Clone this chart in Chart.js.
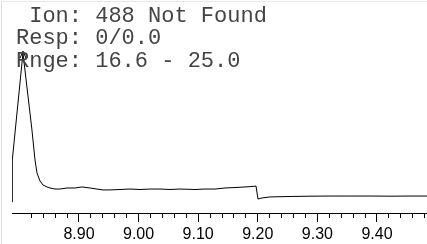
<!DOCTYPE html>
<html>
<head>
<meta charset="utf-8">
<script src="https://cdn.jsdelivr.net/npm/chart.js@4.4.0/dist/chart.umd.min.js"></script>
<style>
  html, body { margin: 0; padding: 0; background: #fff; }
  #wrap { position: relative; width: 427px; height: 244px; overflow: hidden; }
  #frame { position: absolute; left: 1px; top: 1px; right: 0; bottom: 0; border-left: 1px solid #ddd; border-top: 1px solid #e8e8e8; pointer-events: none; }
  #info { position: absolute; left: 16px; top: 5.5px; font: 22px/22.7px "Liberation Mono", monospace; color: #444; white-space: pre; }
</style>
</head>
<body>
<div id="wrap">
  <canvas id="tic" width="427" height="244"></canvas>
  <div id="info"></div>
  <div id="frame"></div>
</div>
<script>
// header lines
const infoLines = [' Ion: 488 Not Found', 'Resp: 0/0.0', 'Rnge: 16.6 - 25.0'];

// retention time (min) and relative abundance of the trace
const rtMinutes = [
  8.7876, 8.7881, 8.8060, 8.8211, 8.8228, 8.8262, 8.8295, 8.8346, 8.8396, 8.8463,
  8.8513, 8.8597, 8.8681, 8.8799, 8.8933, 8.9050, 8.9185, 8.9302, 8.9403, 8.9520,
  8.9688, 8.9856, 9.0023, 9.0191, 9.0359, 9.0527, 9.0695, 9.0946, 9.1114, 9.1282,
  9.1450, 9.1617, 9.1785, 9.1903, 9.1970, 9.2003, 9.2070, 9.2205, 9.2540, 9.2876,
  9.3211, 9.3547, 9.3883, 9.4218, 9.4554, 9.4839
];
const abundance = [
  0, 28.2, 100, 48.3, 41.6, 28.2, 19.5, 14.1, 11.4, 10.1,
  9.4, 8.7, 8.7, 9.4, 9.4, 10.1, 9.4, 8.7, 8.1, 8.1,
  8.4, 8.7, 8.4, 8.7, 8.7, 8.4, 8.7, 8.4, 8.7, 8.7,
  9.4, 9.7, 10.1, 10.4, 10.7, 2.0, 2.7, 3.4, 3.7, 3.9,
  4.0, 4.0, 4.0, 3.9, 4.0, 4.0
];

// peak marker
const markerRt = [8.806];
const markerAbund = [101.3];

// axis ticks
const majorTicks = [8.90, 9.00, 9.10, 9.20, 9.30, 9.40];
const tickLabels = ['8.90', '9.00', '9.10', '9.20', '9.30', '9.40'];
const minorTicks = [
  8.82, 8.84, 8.86, 8.88, 8.92, 8.94, 8.96, 8.98, 9.02, 9.04, 9.06, 9.08,
  9.12, 9.14, 9.16, 9.18, 9.22, 9.24, 9.26, 9.28, 9.32, 9.34, 9.36, 9.38,
  9.42, 9.44, 9.46, 9.48
];

document.getElementById('info').textContent = infoLines.join('\n');

function arrowHead() {
  const c = document.createElement('canvas');
  c.width = 10;
  c.height = 18;
  const g = c.getContext('2d');
  g.strokeStyle = '#000';
  g.lineWidth = 1;
  g.beginPath();
  g.moveTo(2, 16);
  g.lineTo(5, 9);
  g.lineTo(8, 16);
  g.stroke();
  return c;
}

// short minor ticks under the axis line
const minorTickPlugin = {
  id: 'minorTicks',
  afterDraw(chart) {
    const scale = chart.scales.x;
    const ctx = chart.ctx;
    const y0 = scale.top;
    ctx.save();
    ctx.strokeStyle = '#000';
    ctx.lineWidth = 1;
    ctx.beginPath();
    minorTicks.forEach(v => {
      const px = Math.round(scale.getPixelForValue(v) - 0.5) + 0.5;
      ctx.moveTo(px, y0);
      ctx.lineTo(px, y0 + 5);
    });
    ctx.stroke();
    ctx.restore();
  }
};

new Chart(document.getElementById('tic'), {
  type: 'scatter',
  data: {
    datasets: [
      {
        data: rtMinutes.map((x, i) => ({ x: x, y: abundance[i] })),
        showLine: true,
        borderColor: '#000',
        borderWidth: 1,
        pointRadius: 0,
        tension: 0
      },
      {
        data: markerRt.map((x, i) => ({ x: x, y: markerAbund[i] })),
        showLine: false,
        pointStyle: arrowHead(),
        pointRadius: 5
      }
    ]
  },
  options: {
    responsive: false,
    animation: false,
    devicePixelRatio: 1,
    layout: { autoPadding: false, padding: { left: 12, right: 0, top: 0, bottom: 0 } },
    plugins: {
      legend: { display: false },
      tooltip: { enabled: false }
    },
    scales: {
      x: {
        type: 'linear',
        min: 8.7876,
        max: 9.4839,
        afterBuildTicks: (scale) => {
          scale.ticks = majorTicks.map(v => ({ value: v }));
        },
        afterFit: (scale) => { scale.height = 31; },
        border: { display: true, color: '#000', width: 1 },
        grid: {
          drawOnChartArea: false,
          drawTicks: true,
          tickLength: 9,
          tickColor: '#000'
        },
        ticks: {
          autoSkip: false,
          maxRotation: 0,
          padding: 3,
          color: '#000',
          font: { family: 'Liberation Sans', size: 16 },
          callback: (value) => {
            const i = majorTicks.findIndex(t => Math.abs(t - value) < 1e-6);
            return i >= 0 ? tickLabels[i] : '';
          }
        }
      },
      y: {
        display: false,
        min: -7.38,
        max: 135.57
      }
    }
  },
  plugins: [minorTickPlugin]
});
</script>
</body>
</html>
